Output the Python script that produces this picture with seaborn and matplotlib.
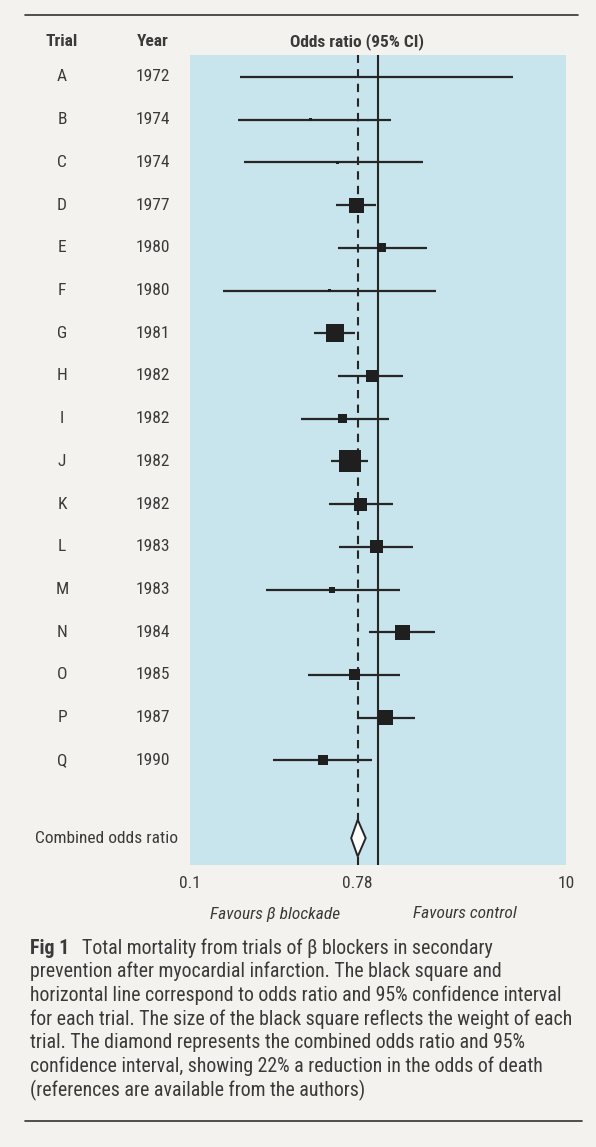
import numpy as np
import matplotlib
matplotlib.use("Agg")
import matplotlib.pyplot as plt
from matplotlib import font_manager
from matplotlib.patches import Polygon
from matplotlib.transforms import blended_transform_factory
from matplotlib.ticker import LogLocator, NullFormatter
import seaborn as sns

# Data
trials = list("ABCDEFGHIJKLMNOPQ")
years = [1972, 1974, 1974, 1977, 1980, 1980, 1981, 1982, 1982, 1982,
         1982, 1983, 1983, 1984, 1985, 1987, 1990]
odds = [1.00, 0.44, 0.61, 0.77, 1.05, 0.55, 0.59, 0.93, 0.65, 0.71,
        0.81, 0.98, 0.57, 1.35, 0.75, 1.10, 0.51]
ci_low = [0.185, 0.181, 0.194, 0.60, 0.61, 0.149, 0.458, 0.61, 0.388, 0.562,
          0.547, 0.618, 0.253, 0.892, 0.423, 0.796, 0.277]
ci_high = [5.2, 1.17, 1.74, 0.976, 1.83, 2.03, 0.755, 1.35, 1.14, 0.889,
           1.20, 1.54, 1.31, 2.01, 1.31, 1.58, 0.925]
weights = [4, 9, 9, 225, 81, 9, 324, 144, 81, 484,
           169, 169, 36, 225, 121, 225, 100]
combined_or = 0.78
combined_low = 0.72
combined_high = 0.86

BG = "#f3f2ee"
PANEL = "#c8e4ec"
INK = "#262626"
TXT = "#3a3a3a"

sns.set_style("white")

# look for a narrow sans face, otherwise fall back to Liberation Sans
families = {f.name for f in font_manager.fontManager.ttflist}
stretches = {(f.name, f.stretch) for f in font_manager.fontManager.ttflist}
narrow = None
for cand in ["Liberation Sans Narrow", "Roboto Condensed", "Open Sans Condensed",
             "Noto Sans Condensed", "DejaVu Sans Condensed"]:
    if cand in families:
        narrow = cand
        break
stretch = "normal"
if narrow is None:
    for name, st in stretches:
        if name in ("Noto Sans", "DejaVu Sans", "Roboto", "Open Sans") and \
                st in ("condensed", "semi-condensed", 75, 87.5, 62.5):
            narrow = name
            stretch = st
            break
if narrow is None:
    narrow = "Liberation Sans"
plt.rcParams["font.family"] = [narrow, "DejaVu Sans"]
plt.rcParams["font.stretch"] = stretch

fig = plt.figure(figsize=(5.96, 11.47), dpi=100, facecolor=BG)
ax = fig.add_axes([190 / 596, 1 - 865 / 1147, 376 / 596, 810 / 1147])
ax.set_facecolor(PANEL)

rows = np.arange(len(trials))
comb_y = 17.82

ax.set_xscale("log")
ax.set_xlim(0.1, 10)
ax.set_ylim(18.45, -0.515)

# reference lines
ax.axvline(1.0, color=INK, lw=1.5, zorder=2)
ax.axvline(combined_or, color=INK, lw=1.5, ls=(0, (4, 3)), zorder=2)

# confidence intervals
ax.hlines(rows, ci_low, ci_high, color=INK, lw=1.6, zorder=3)

# squares sized by weight
sns.scatterplot(x=odds, y=rows, marker="s", s=np.array(weights) * 0.52,
                color="#1f1f1f", linewidth=0, ax=ax, zorder=4, legend=False)

# combined diamond
half = 0.43
diamond = Polygon([[combined_low, comb_y], [combined_or, comb_y - half],
                   [combined_high, comb_y], [combined_or, comb_y + half]],
                  closed=True, facecolor="white", edgecolor=INK, lw=1.4, zorder=5)
ax.add_patch(diamond)

for s in ax.spines.values():
    s.set_visible(False)
ax.set_yticks([])
ax.set_xticks([0.1, 0.78, 10])
ax.set_xticklabels(["0.1", "0.78", "10"])
ax.xaxis.set_minor_locator(LogLocator(base=10, subs=np.arange(2, 10)))
ax.xaxis.set_minor_formatter(NullFormatter())
ax.tick_params(axis="x", which="major", length=0, pad=8, labelsize=12.5, labelcolor=TXT)
ax.tick_params(axis="x", which="minor", direction="in", length=4, width=1, color="white")
ax.grid(False)

FS = 12.5

# left-hand columns
tr = blended_transform_factory(fig.transFigure, ax.transData)
for r, t, yv in zip(rows, trials, years):
    ax.text(62 / 596, r, t, transform=tr, ha="center", va="center",
            fontsize=FS, color=TXT, clip_on=False)
    ax.text(153 / 596, r, str(yv), transform=tr, ha="center", va="center",
            fontsize=FS, color=TXT, clip_on=False)
ax.text(35 / 596, comb_y, "Combined odds ratio", transform=tr, ha="left",
        va="center", fontsize=FS, color=TXT, clip_on=False)

# headers
fig.text(62 / 596, 1 - 42 / 1147, "Trial", ha="center", va="center",
         fontsize=FS, fontweight="bold", color=TXT)
fig.text(153 / 596, 1 - 42 / 1147, "Year", ha="center", va="center",
         fontsize=FS, fontweight="bold", color=TXT)
fig.text(357 / 596, 1 - 42 / 1147, "Odds ratio (95% CI)", ha="center",
         va="center", fontsize=FS, fontweight="bold", color=TXT)

# favours labels
fig.text(275 / 596, 1 - 914 / 1147, "Favours β blockade", ha="center",
         va="center", fontsize=FS, style="italic", color=TXT)
fig.text(465 / 596, 1 - 914 / 1147, "Favours control", ha="center",
         va="center", fontsize=FS, style="italic", color=TXT)

# caption
caption = [
    "Total mortality from trials of β blockers in secondary",
    "prevention after myocardial infarction. The black square and",
    "horizontal line correspond to odds ratio and 95% confidence interval",
    "for each trial. The size of the black square reflects the weight of each",
    "trial. The diamond represents the combined odds ratio and 95%",
    "confidence interval, showing 22% a reduction in the odds of death",
    "(references are available from the authors)",
]
renderer = fig.canvas.get_renderer()
cap_fs = 14
probe = fig.text(0, 0, caption[3], fontsize=cap_fs)
w = probe.get_window_extent(renderer).width
probe.remove()
cap_fs = min(cap_fs * 547 / w, 15.5)

y0 = 948
for i, line in enumerate(caption):
    yy = 1 - (y0 + i * 23.7) / 1147
    if i == 0:
        lab = fig.text(30 / 596, yy, "Fig 1", ha="left", va="center",
                       fontsize=cap_fs, fontweight="bold", color=TXT)
        end_px = 30 + lab.get_window_extent(renderer).width
        fig.text(max(82, end_px + 8) / 596, yy, line, ha="left", va="center",
                 fontsize=cap_fs, color=TXT)
    else:
        fig.text(30 / 596, yy, line, ha="left", va="center",
                 fontsize=cap_fs, color=TXT)

# horizontal rules
fig.add_artist(plt.Line2D([25 / 596, 578 / 596], [1 - 15 / 1147, 1 - 15 / 1147],
                          color="#333333", lw=1.2))
fig.add_artist(plt.Line2D([25 / 596, 582 / 596], [1 - 1121 / 1147, 1 - 1121 / 1147],
                          color="#333333", lw=1.2))

fig.savefig("out.png", dpi=100, facecolor=BG)
